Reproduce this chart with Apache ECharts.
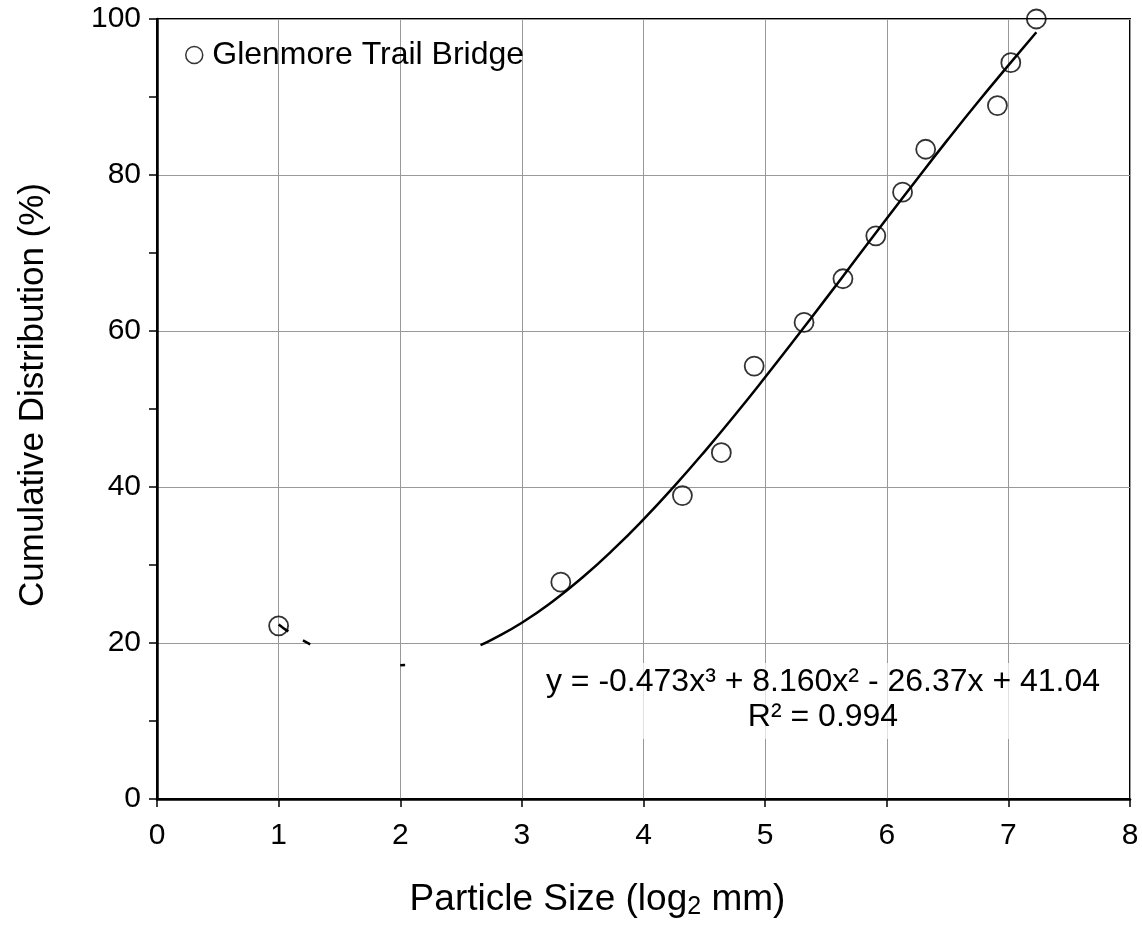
<!DOCTYPE html>
<html>
<head>
<meta charset="utf-8">
<script src="https://cdn.jsdelivr.net/npm/echarts@6/dist/echarts.min.js"></script>
<style>
  html, body { margin: 0; padding: 0; background: #fff; }
  #chart { width: 1142px; height: 928px; }
</style>
</head>
<body>
<div id="chart"></div>
<script>
// measured points (log2 mm, cumulative %)
const sizeLog2 = [1.0, 3.32, 4.32, 4.64, 4.91, 5.32, 5.64, 5.91, 6.13, 6.32, 6.91, 7.02, 7.23];
const cumPct = [22.2, 27.8, 38.9, 44.4, 55.5, 61.1, 66.7, 72.2, 77.8, 83.3, 88.9, 94.4, 100];

// trend curve in the pieces that are visible
const trendA = [[1.0, 22.36], [1.04, 21.9], [1.08, 21.49]];
const trendB = [[1.2, 20.33], [1.26, 19.83]];
const trendC = [[2.0, 17.16], [2.04, 17.19]];
const trendD = [[2.66, 19.73], [2.75, 20.4], [3.0, 22.6], [3.25, 25.29], [3.5, 28.43], [3.75, 31.96],
  [4.0, 35.85], [4.25, 40.05], [4.5, 44.51], [4.75, 49.2], [5.0, 54.07], [5.25, 59.06], [5.5, 64.15],
  [5.75, 69.28], [6.0, 74.41], [6.25, 79.5], [6.5, 84.5], [6.75, 89.36], [7.0, 94.05], [7.23, 98.3]];

const seriesName = 'Glenmore Trail Bridge';
const eqText = 'y = -0.473x³ + 8.160x² - 26.37x + 41.04';
const r2Text = 'R² = 0.994';

const font = 'Liberation Sans, Arial, sans-serif';
const chart = echarts.init(document.getElementById('chart'));

function trendSeries(d) {
  return {
    type: 'line',
    data: d,
    smooth: true,
    showSymbol: false,
    symbol: 'none',
    silent: true,
    z: 5,
    lineStyle: { color: '#000', width: 2.5 }
  };
}

const option = {
  backgroundColor: '#fff',
  animation: false,
  textStyle: { fontFamily: font },
  grid: {
    left: 157, top: 19, width: 973, height: 780,
    show: true, borderColor: '#000', borderWidth: 2, backgroundColor: 'transparent'
  },
  legend: {
    data: [seriesName],
    left: 180, top: 34,
    itemWidth: 20, itemHeight: 17,
    itemStyle: { color: '#fff', borderColor: '#000', borderWidth: 1.5 },
    textStyle: { fontFamily: font, fontSize: 32, color: '#000', padding: [0, 0, 0, 3] }
  },
  xAxis: {
    type: 'value', min: 0, max: 8, interval: 1,
    name: 'Particle Size (log{sub|2} mm)',
    nameLocation: 'middle', nameGap: 80,
    nameTextStyle: {
      fontFamily: font, fontSize: 37, color: '#000',
      padding: [0, 92, 0, 0],
      rich: { sub: { fontFamily: font, fontSize: 25, color: '#000', padding: [16, 0, 0, 0] } }
    },
    axisLine: { lineStyle: { color: '#000', width: 2.5 } },
    axisTick: { show: true, length: 8, lineStyle: { color: '#000', width: 1.5 } },
    axisLabel: { fontFamily: font, fontSize: 30, color: '#000', margin: 22 },
    splitLine: { show: true, lineStyle: { color: '#999', width: 1 } }
  },
  yAxis: {
    type: 'value', min: 0, max: 100, interval: 20,
    name: 'Cumulative Distribution (%)',
    nameLocation: 'middle', nameGap: 106,
    nameTextStyle: { fontFamily: font, fontSize: 35, color: '#000', padding: [0, 0, 0, 28] },
    axisLine: { lineStyle: { color: '#000', width: 2.5 } },
    axisTick: { show: true, length: 8, lineStyle: { color: '#000', width: 1.5 } },
    minorTick: { show: true, splitNumber: 2, length: 8, lineStyle: { color: '#000', width: 1.5 } },
    axisLabel: { fontFamily: font, fontSize: 30, color: '#000', margin: 16 },
    splitLine: { show: true, lineStyle: { color: '#999', width: 1 } }
  },
  graphic: [{
    type: 'text',
    x: 823, y: 663,
    z: 3,
    style: {
      text: eqText + '\n' + r2Text,
      fontFamily: font, fontSize: 32, fill: '#000',
      align: 'center', verticalAlign: 'top', lineHeight: 35,
      backgroundColor: 'rgba(255,255,255,0.7)',
      padding: [2, 6, 4, 6]
    }
  }],
  series: [
    {
      name: seriesName,
      type: 'scatter',
      data: sizeLog2.map((x, i) => [x, cumPct[i]]),
      symbol: 'circle',
      symbolSize: 19,
      z: 4,
      itemStyle: { color: 'rgba(255,255,255,0)', borderColor: '#000', borderWidth: 1.8 }
    },
    trendSeries(trendA),
    trendSeries(trendB),
    trendSeries(trendC),
    trendSeries(trendD)
  ]
};

chart.setOption(option);
</script>
</body>
</html>
